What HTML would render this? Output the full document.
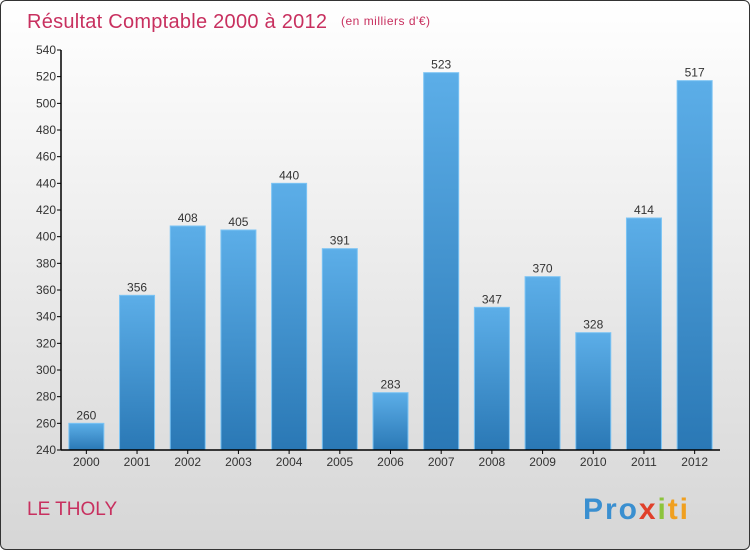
<!DOCTYPE html>
<html><head><meta charset="utf-8"><style>
body{margin:0}
#c{position:relative;width:748px;height:548px;border:1px solid #333;border-radius:6px;background:linear-gradient(#fff,#d6d6d6);overflow:hidden;font-family:"Liberation Sans",sans-serif}
</style></head><body>
<div id="c">
<svg id="s" width="748" height="548">
<defs><linearGradient id="g" x1="0" y1="0" x2="0" y2="1"><stop offset="0" stop-color="#5caee8"/><stop offset="1" stop-color="#2a78b5"/></linearGradient></defs>
<text x="26" y="27" font-size="20" fill="#c8305f" textLength="300">Résultat Comptable 2000 à 2012</text>
<text x="340" y="24" font-size="12" fill="#c8305f" textLength="89">(en milliers d'€)</text>
<text x="26" y="514" font-size="19" fill="#c8305f">LE THOLY</text>
<text x="582" y="518" font-size="30" font-weight="bold" textLength="105"><tspan fill="#3a8fd0">Pro</tspan><tspan fill="#e0402a">x</tspan><tspan fill="#8cc43c">i</tspan><tspan fill="#f0a020">ti</tspan></text>
<g id="plot"></g>
</svg></div>
<script>
const years=["2000","2001","2002","2003","2004","2005","2006","2007","2008","2009","2010","2011","2012"];
const values=[260,356,408,405,440,391,283,523,347,370,328,414,517];
const ticks=[240,260,280,300,320,340,360,380,400,420,440,460,480,500,520,540];
const ns="http://www.w3.org/2000/svg",p=document.getElementById('plot');
const x0=60,x1=719,ymin=240,ymax=540;
const y=v=>449-(v-ymin)*(400/(ymax-ymin));
const bw=(x1-x0)/years.length;
function el(t,a,txt){const e=document.createElementNS(ns,t);for(const k in a)e.setAttribute(k,a[k]);if(txt!=null)e.textContent=txt;p.appendChild(e);return e;}
ticks.forEach(t=>{
const l=el('line',{x1:x0-4,x2:x0,y1:y(t),y2:y(t),stroke:'#000'});


const tx=el('text',{x:x0-5,y:y(t)+4,'font-size':12,'text-anchor':'end',fill:'#333'},t);


});
years.forEach((yr,i)=>{
const cx=x0+bw*(i+0.5),v=values[i];
const r=el('rect',{x:cx-17.5,y:y(v),width:35,height:y(ymin)-y(v),fill:'url(#g)',stroke:'#7cc4f4','stroke-width':1});


const vt=el('text',{x:cx,y:y(v)-4,'font-size':12,'text-anchor':'middle',fill:'#333'},v);


const xt=el('text',{x:cx,y:465,'font-size':12,'text-anchor':'middle',fill:'#333'},yr);


const tk=el('line',{x1:cx,x2:cx,y1:y(ymin),y2:y(ymin)+4,stroke:'#000'});


});
const ya=el('line',{x1:x0,x2:x0,y1:y(ymax),y2:y(ymin),stroke:'#000','stroke-width':1.5});


const xa=el('line',{x1:x0,x2:x1,y1:y(ymin),y2:y(ymin),stroke:'#000','stroke-width':1.5});


</script>
</body></html>
